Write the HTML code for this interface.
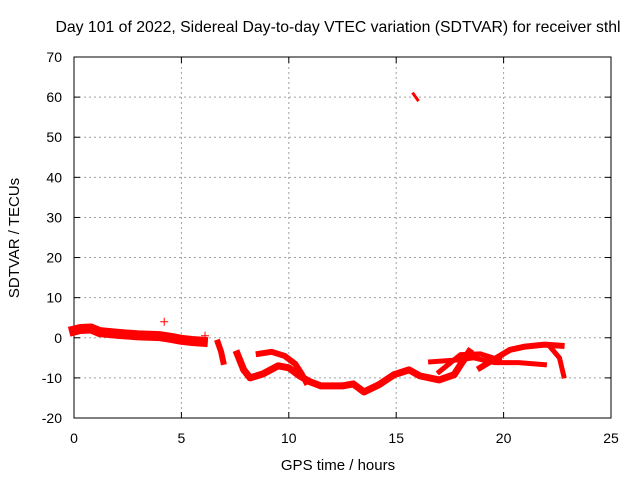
<!DOCTYPE html>
<html><head><meta charset="utf-8"><style>
body{margin:0;background:#fff;}
svg text{font-family:"Liberation Sans",sans-serif;font-size:14px;fill:#000;}
</style></head><body>
<svg id="chart" width="640" height="480">
<rect width="640" height="480" fill="#fff"/>
<text x="338" y="32" text-anchor="middle" style="font-size:15.8px">Day 101 of 2022, Sidereal Day-to-day VTEC variation (SDTVAR) for receiver sthl</text>
<g id="grid"></g><g id="axes"></g><g id="marks"></g>
<text x="338" y="470" text-anchor="middle" style="font-size:15px">GPS time / hours</text>
<text transform="translate(19,238) rotate(-90)" text-anchor="middle" style="font-size:15px">SDTVAR / TECUs</text>
</svg>
<script>
const xTicks=[0,5,10,15,20,25];
const yTicks=[-20,-10,0,10,20,30,40,50,60,70];
const track1=[[0,1.8],[0.3,2.2],[0.8,2.3],[1.2,1.4],[2,1],[3,0.6],[4,0.4],[4.5,0],[5,-0.5],[5.5,-0.8],[6,-1]];
const track2=[[6.7,-1.2],[6.85,-3.5],[6.95,-6]];
const track3=[[7.6,-4],[7.9,-8],[8.2,-10],[8.8,-9],[9.5,-7],[10,-7.5],[10.5,-9.5],[11,-11],[11.5,-12],[12.5,-12],[13,-11.5],[13.5,-13.5],[14.2,-11.7],[14.9,-9.2],[15.6,-8],[16.1,-9.5],[17,-10.5],[17.7,-9.2],[18,-6.7],[18.4,-3.5]];
const track4=[[8.6,-4],[9.2,-3.5],[9.8,-4.5],[10.3,-6.5],[10.6,-9],[10.8,-11]];
const track5=[[16.6,-6],[17.9,-5.5],[18.6,-5],[19.6,-6.2],[20.7,-6.2],[21.9,-6.7]];
const track6=[[17,-8.5],[18,-4.2],[18.9,-4],[19.8,-5.5]];
const track7=[[18.9,-7.5],[20.3,-3],[21,-2.2],[21.9,-1.7],[22.7,-2]];
const track8=[[22.2,-2.5],[22.6,-5],[22.8,-9.5]];
const track9=[[15.8,60.8],[16,59.3]];
const outliers=[[4.2,4],[6.1,0.5]];
const X0=74,X1=611,Y0=418,Y1=57;
const sx=v=>X0+(v-0)/25*(X1-X0);
const sy=v=>Y0-(v+20)/90*(Y0-Y1);
const NS="http://www.w3.org/2000/svg";
function mk(tag,parent,attrs){const e=document.createElementNS(NS,tag);for(const k in attrs)e.setAttribute(k,attrs[k]);parent.appendChild(e);return e;}
const grid=document.getElementById('grid'),axes=document.getElementById('axes'),marks=document.getElementById('marks');
xTicks.forEach(t=>{
 if(t>0&&t<25){const g=mk('line',grid,{x1:sx(t),x2:sx(t),y1:Y1,y2:Y0,stroke:'#a0a0a0','stroke-dasharray':'2,3'});
 
 }
 const l=mk('text',axes,{x:sx(t),y:Y0+25,'text-anchor':'middle'});l.textContent=t;
 
 
 mk('line',axes,{x1:sx(t),x2:sx(t),y1:Y0,y2:Y0-6,stroke:'#000'});
 mk('line',axes,{x1:sx(t),x2:sx(t),y1:Y1,y2:Y1+6,stroke:'#000'});
});
yTicks.forEach(t=>{
 if(t>-20&&t<70){const g=mk('line',grid,{x1:X0,x2:X1,y1:sy(t),y2:sy(t),stroke:'#a0a0a0','stroke-dasharray':'2,3'});
 
 }
 const l=mk('text',axes,{x:X0-12,y:sy(t)+5,'text-anchor':'end'});l.textContent=t;
 
 
 mk('line',axes,{x1:X0,x2:X0+6,y1:sy(t),y2:sy(t),stroke:'#000'});
 mk('line',axes,{x1:X1,x2:X1-6,y1:sy(t),y2:sy(t),stroke:'#000'});
});
const frame=mk('rect',axes,{x:X0,y:Y1,width:X1-X0,height:Y0-Y1,fill:'none',stroke:'#000'});


const tracks=[[track1,10],[track2,6],[track3,7],[track4,6],[track5,5],[track6,5],[track7,6],[track8,5],[track9,3]];
tracks.forEach(([tr,w])=>{
 const p=mk('polyline',marks,{points:tr.map(d=>sx(d[0])+','+sy(d[1])).join(' '),fill:'none',stroke:'#ff0000','stroke-width':w,'stroke-linejoin':'round','stroke-linecap':'square'});
 
 
});
outliers.forEach(d=>{
 const x=sx(d[0]),y=sy(d[1]);
 const p=mk('path',marks,{d:`M${x-4},${y}H${x+4}M${x},${y-4}V${y+4}`,stroke:'#ff0000','stroke-width':1});
 
 
});
</script>
</body></html>
